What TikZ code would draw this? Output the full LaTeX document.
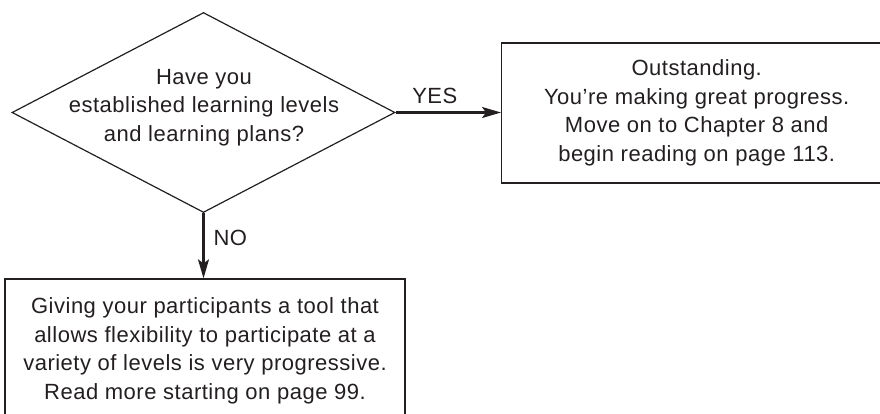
\documentclass[tikz,border=0pt]{standalone}
\usepackage{fontspec}
\setmainfont{Liberation Sans}[LetterSpace=2.3]
\usetikzlibrary{shapes.geometric,arrows.meta}
\definecolor{ink}{HTML}{231F20}
\begin{document}
\begin{tikzpicture}[x=1pt,y=-1pt,
  every node/.style={text=ink},
  bodyfont/.style={font=\fontsize{22}{28.5}\selectfont},
  decision/.style={diamond, draw=ink, line width=1.2pt,
    minimum width=383pt, minimum height=200pt, inner sep=0pt},
  caption/.style={bodyfont, align=center, inner sep=0pt},
  msgbox/.style={bodyfont, draw=ink, line width=1.3pt, rectangle,
    inner sep=0pt, align=center},
  branch/.style={bodyfont, inner sep=0pt},
  flow/.style={draw=ink, line width=2.2pt,
    -{Stealth[length=19pt,width=11pt,inset=4pt]}}
]
\useasboundingbox (0,0) rectangle (880,413);
\clip (0,0) rectangle (880,413);

% decision
\node[decision] (q) at (203.5,112.5) {};
\node[caption] (qtext) at (204,107.4)
  {Have you\\established learning levels\\and learning plans?};

% outcomes
\node[msgbox, minimum width=390pt, minimum height=140pt] (yes) at (696.7,113)
  {Outstanding.\\You’re making great progress.\\Move on to Chapter 8 and\\begin reading on page 113.};
\node[msgbox, minimum width=400pt, minimum height=143.4pt] (no) at (205,350.7)
  {Giving your participants a tool that\\allows flexibility to participate at a\\variety of levels is very progressive.\\Read more starting on page 99.};

% branches
\draw[flow] (q.east) -- (q.east -| yes.west)
  node[branch, pos=0.372, anchor=base, yshift=9.5pt] (yeslabel) {YES};
\draw[flow] (q.south) -- (q.south |- no.north)
  node[branch, pos=0.49, anchor=base west, xshift=9pt] (nolabel) {NO};
\end{tikzpicture}
\end{document}
